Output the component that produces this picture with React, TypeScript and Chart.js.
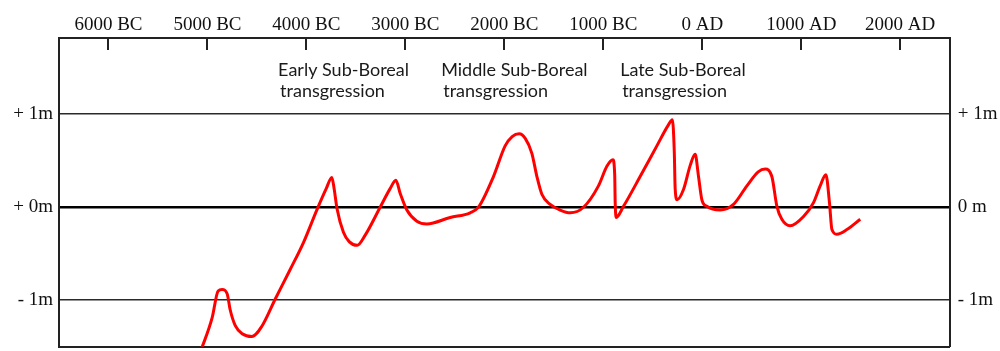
import React, { useEffect, useRef } from 'react';
import { Chart, registerables } from 'chart.js';

Chart.register(...registerables);

// Sea level curve (year, metres relative to present)
const years = [-5069, -4953, -4892, -4852, -4801, -4771, -4720, -4649, -4551, -4450, -4316, -4164, -4030, -3891, -3800, -3743, -3720, -3690, -3626, -3568, -3487, -3406, -3255, -3154, -3096, -3053, -2985, -2884, -2783, -2547, -2345, -2262, -2110, -1992, -1921, -1850, -1789, -1722, -1671, -1621, -1537, -1436, -1335, -1200, -1049, -964, -903, -885, -880, -870, -796, -628, -459, -345, -302, -283, -274, -254, -190, -122, -72, -38, -4, 46, 181, 315, 451, 565, 636, 703, 754, 804, 888, 1023, 1124, 1191, 1249, 1285, 1310, 1360, 1461, 1596];
const levels = [-1.55, -1.19, -0.90, -0.885, -0.93, -1.1, -1.27, -1.36, -1.39, -1.28, -0.99, -0.67, -0.38, -0.02, 0.2, 0.32, 0.2, -0.02, -0.27, -0.37, -0.41, -0.3, 0, 0.2, 0.29, 0.15, -0.03, -0.15, -0.18, -0.11, -0.06, 0, 0.33, 0.66, 0.76, 0.79, 0.74, 0.58, 0.33, 0.14, 0.03, -0.03, -0.06, 0, 0.23, 0.44, 0.51, 0.35, 0.05, -0.11, 0.01, 0.33, 0.66, 0.88, 0.94, 0.6, 0.2, 0.08, 0.19, 0.45, 0.57, 0.33, 0.08, 0.01, -0.03, 0.03, 0.23, 0.38, 0.41, 0.33, 0.01, -0.13, -0.2, -0.1, 0.05, 0.23, 0.35, 0.05, -0.24, -0.29, -0.24, -0.13];

const xTickValues = [-6000, -5000, -4000, -3000, -2000, -1000, 0, 1000, 2000];
const xTickLabels = ['6000 BC', '5000 BC', '4000 BC', '3000 BC', '2000 BC', '1000 BC', '0 AD', '1000 AD', '2000 AD'];
const yTickValues = [-1, 0, 1];
const yLeftLabels = ['- 1m', '+ 0m', '+ 1m'];
const yRightLabels = ['- 1m', '0 m', '+ 1m'];

const phaseTitles = ['Early Sub-Boreal', 'Middle Sub-Boreal', 'Late Sub-Boreal'];
const phaseSubtitle = 'transgression';
const phaseStartYears = [-4286, -2638, -830];
const phaseLevel1 = 1.41;
const phaseLevel2 = 1.185;

const X_MIN = -6500;
const X_MAX = 2500;
const Y_MIN = -1.5;
const Y_MAX = 1.82;

const serif = { family: '"Liberation Serif", "Times New Roman", serif', size: 19 };
const frameColor = '#222';

const overlayPlugin = {
  id: 'overlay',
  afterDraw(chart: any) {
    const { ctx, chartArea } = chart;
    const xs = chart.scales.x;
    const ys = chart.scales.y;
    ctx.save();
    ctx.strokeStyle = frameColor;
    ctx.lineWidth = 2;
    xTickValues.forEach((v) => {
      const px = Math.round(xs.getPixelForValue(v));
      ctx.beginPath();
      ctx.moveTo(px, chartArea.top);
      ctx.lineTo(px, chartArea.top + 12);
      ctx.stroke();
    });
    ctx.fillStyle = '#1a1a1a';
    ctx.font = '18px Lato, "Open Sans", sans-serif';
    ctx.textAlign = 'left';
    ctx.textBaseline = 'alphabetic';
    phaseTitles.forEach((t, i) => {
      const px = xs.getPixelForValue(phaseStartYears[i]);
      ctx.fillText(t, px, ys.getPixelForValue(phaseLevel1));
      ctx.fillText(phaseSubtitle, px + 2, ys.getPixelForValue(phaseLevel2));
    });
    ctx.restore();
  },
};

const noPadV = (w: number) => (s: any) => {
  s.width = w;
  s.paddingTop = 0;
  s.paddingBottom = 0;
};
const noPadH = (h: number) => (s: any) => {
  s.height = h;
  s.paddingLeft = 0;
  s.paddingRight = 0;
};

export default function App() {
  const ref = useRef<HTMLCanvasElement | null>(null);

  useEffect(() => {
    if (!ref.current) return;
    const points = years.map((yr, i) => ({ x: yr, y: levels[i] }));
    const chart = new Chart(ref.current, {
      type: 'line',
      data: {
        datasets: [
          {
            data: points,
            borderColor: '#ff0000',
            borderWidth: 3,
            pointRadius: 0,
            fill: false,
            cubicInterpolationMode: 'monotone',
            xAxisID: 'x',
            yAxisID: 'y',
          },
        ],
      },
      options: {
        responsive: false,
        maintainAspectRatio: false,
        animation: false,
        layout: { padding: 0 },
        plugins: { legend: { display: false }, tooltip: { enabled: false } },
        scales: {
          x: {
            type: 'linear',
            position: 'top',
            min: X_MIN,
            max: X_MAX,
            afterBuildTicks: (s: any) => {
              s.ticks = xTickValues.map((v) => ({ value: v }));
            },
            afterFit: noPadH(38),
            ticks: {
              autoSkip: false,
              maxRotation: 0,
              padding: 2,
              color: '#111',
              font: serif,
              callback: (v: any) => {
                const i = xTickValues.indexOf(Number(v));
                return i >= 0 ? xTickLabels[i] : '';
              },
            },
            grid: { drawOnChartArea: false, drawTicks: false },
            border: { display: true, color: frameColor, width: 2 },
          },
          xb: {
            type: 'linear',
            position: 'bottom',
            min: X_MIN,
            max: X_MAX,
            afterFit: noPadH(4.3),
            ticks: { display: false },
            grid: { drawOnChartArea: false, drawTicks: false },
            border: { display: true, color: frameColor, width: 2 },
          },
          y: {
            type: 'linear',
            position: 'left',
            min: Y_MIN,
            max: Y_MAX,
            afterBuildTicks: (s: any) => {
              s.ticks = yTickValues.map((v) => ({ value: v }));
            },
            afterFit: noPadV(59),
            ticks: {
              padding: 6,
              color: '#111',
              font: serif,
              callback: (v: any) => {
                const i = yTickValues.indexOf(Number(v));
                return i >= 0 ? yLeftLabels[i] : '';
              },
            },
            grid: {
              drawTicks: false,
              color: (c: any) => (c.tick && c.tick.value === 0 ? '#000' : '#2a2a2a'),
              lineWidth: (c: any) => (c.tick && c.tick.value === 0 ? 2.5 : 1.6),
            },
            border: { display: true, color: frameColor, width: 2 },
          },
          y2: {
            type: 'linear',
            position: 'right',
            min: Y_MIN,
            max: Y_MAX,
            afterBuildTicks: (s: any) => {
              s.ticks = yTickValues.map((v) => ({ value: v }));
            },
            afterFit: noPadV(50.3),
            ticks: {
              padding: 8,
              color: '#111',
              font: serif,
              callback: (v: any) => {
                const i = yTickValues.indexOf(Number(v));
                return i >= 0 ? yRightLabels[i] : '';
              },
            },
            grid: { drawOnChartArea: false, drawTicks: false },
            border: { display: true, color: frameColor, width: 2 },
          },
        },
      } as any,
      plugins: [overlayPlugin],
    });
    return () => chart.destroy();
  }, []);

  return (
    <div style={{ position: 'fixed', left: 0, top: 0, width: 1000, height: 351, background: '#fff' }}>
      <canvas ref={ref} width={1000} height={351} style={{ display: 'block', width: 1000, height: 351 }} />
    </div>
  );
}
